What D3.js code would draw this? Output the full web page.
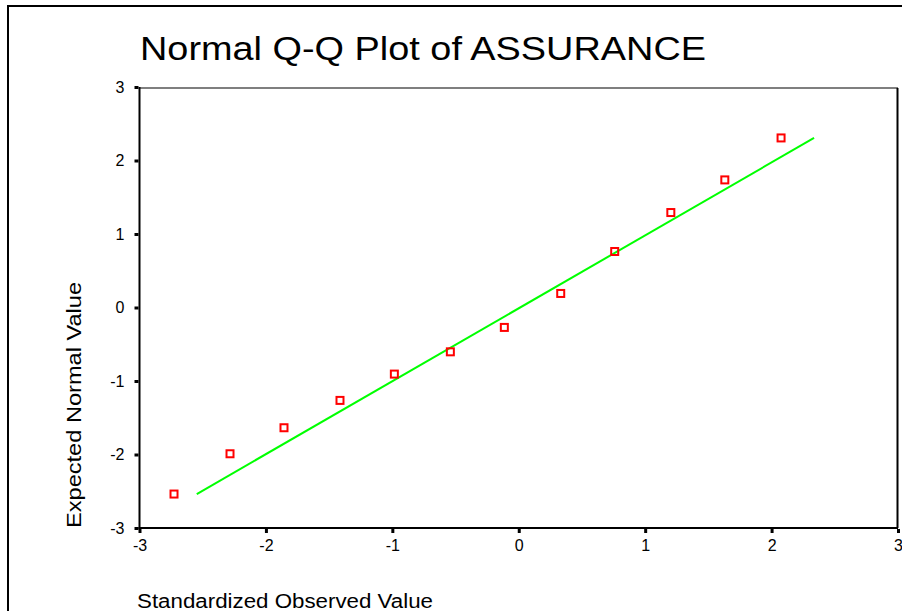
<!DOCTYPE html>
<html lang="en">
<head>
  <meta charset="UTF-8">
  <title>Normal Q-Q Plot of ASSURANCE</title>
  <script src="https://d3js.org/d3.v7.min.js"></script>
  <style>
    body { margin: 0; background: #fff; }
    svg { display: block; font-family: "Liberation Sans", Arial, sans-serif; }
    .tick text { font-size: 16px; fill: #000; }
    .tick line { stroke: #000; stroke-width: 3; }
  </style>
</head>
<body>
  <div id="body"></div>
  <script>
    // data
    const observed = [-2.727, -2.284, -1.857, -1.414, -0.984, -0.541, -0.114, 0.332, 0.759, 1.203, 1.630, 2.075];
    const expected = [-2.538, -1.990, -1.636, -1.264, -0.906, -0.603, -0.271, 0.191, 0.762, 1.292, 1.736, 2.307];
    const lineX = [-2.547, 2.336];
    const lineY = [-2.538, 2.307];
    const xTicks = [-3, -2, -1, 0, 1, 2, 3];
    const yTicks = [-3, -2, -1, 0, 1, 2, 3];

    const width = 902, height = 611;
    const plotLeft = 139.5, plotRight = 898, plotTop = 87, plotBottom = 528;

    const svg = d3.select("#body")
                  .append("svg")
                  .attr("width", width)
                  .attr("height", height);

    // outer frame
    svg.append("rect")
       .attr("x", 8).attr("y", 6)
       .attr("width", 920).attr("height", 640)
       .attr("fill", "none").attr("stroke", "#000").attr("stroke-width", 2);

    const x = d3.scaleLinear().domain([-3, 3]).range([plotLeft, plotRight]);
    const y = d3.scaleLinear().domain([-3, 3]).range([plotBottom, plotTop]);

    // title
    svg.append("text")
       .attr("x", 140).attr("y", 60)
       .attr("font-size", 34)
       .attr("textLength", 566).attr("lengthAdjust", "spacingAndGlyphs")
       .text("Normal Q-Q Plot of ASSURANCE");

    // plot frame: top and right
    svg.append("line")
       .attr("x1", plotLeft).attr("x2", plotRight).attr("y1", plotTop + 1).attr("y2", plotTop + 1)
       .attr("stroke", "#555").attr("stroke-width", 1.5);
    svg.append("line")
       .attr("x1", plotRight - 0.5).attr("x2", plotRight - 0.5).attr("y1", plotTop + 1).attr("y2", plotBottom)
       .attr("stroke", "#000").attr("stroke-width", 2);

    // axes (plain hyphen for negatives, like the original)
    const fmt = d => String(d);
    const xAxis = svg.append("g")
       .attr("transform", `translate(0,${plotBottom + 1})`)
       .call(d3.axisBottom(x).tickValues(xTicks).tickSize(4).tickPadding(4).tickFormat(fmt));
    xAxis.select(".domain").remove();
    xAxis.selectAll(".tick line").attr("stroke-width", 4);

    const yAxis = svg.append("g")
       .attr("transform", `translate(${plotLeft - 1},0)`)
       .call(d3.axisLeft(y).tickValues(yTicks).tickSize(4).tickPadding(10).tickFormat(fmt));
    yAxis.select(".domain").remove();

    svg.selectAll(".tick text").attr("font-family", "Liberation Sans, Arial, sans-serif");
    xAxis.selectAll(".tick text").attr("dy", "0.9em");

    // axis lines
    svg.append("line")
       .attr("x1", plotLeft).attr("x2", plotLeft).attr("y1", plotTop).attr("y2", plotBottom + 1)
       .attr("stroke", "#000").attr("stroke-width", 2);
    svg.append("line")
       .attr("x1", plotLeft - 1).attr("x2", plotRight).attr("y1", plotBottom).attr("y2", plotBottom)
       .attr("stroke", "#000").attr("stroke-width", 2);

    // reference line
    svg.append("line")
       .attr("x1", x(lineX[0])).attr("y1", y(lineY[0]))
       .attr("x2", x(lineX[1])).attr("y2", y(lineY[1]))
       .attr("stroke", "#00ff00").attr("stroke-width", 2);

    // points
    const pts = observed.map((d, i) => ({ o: d, e: expected[i] }));
    svg.selectAll(".pt")
       .data(pts)
       .enter()
       .append("rect")
       .attr("class", "pt")
       .attr("x", d => x(d.o) - 3.5)
       .attr("y", d => y(d.e) - 3.5)
       .attr("width", 7).attr("height", 7)
       .attr("fill", "none").attr("stroke", "#ff0000").attr("stroke-width", 2);

    // axis titles
    svg.append("text")
       .attr("x", 137).attr("y", 608)
       .attr("font-size", 20)
       .attr("textLength", 296).attr("lengthAdjust", "spacingAndGlyphs")
       .text("Standardized Observed Value");

    svg.append("text")
       .attr("transform", "translate(81,528) rotate(-90)")
       .attr("font-size", 21)
       .attr("textLength", 246).attr("lengthAdjust", "spacingAndGlyphs")
       .text("Expected Normal Value");
  </script>
</body>
</html>
